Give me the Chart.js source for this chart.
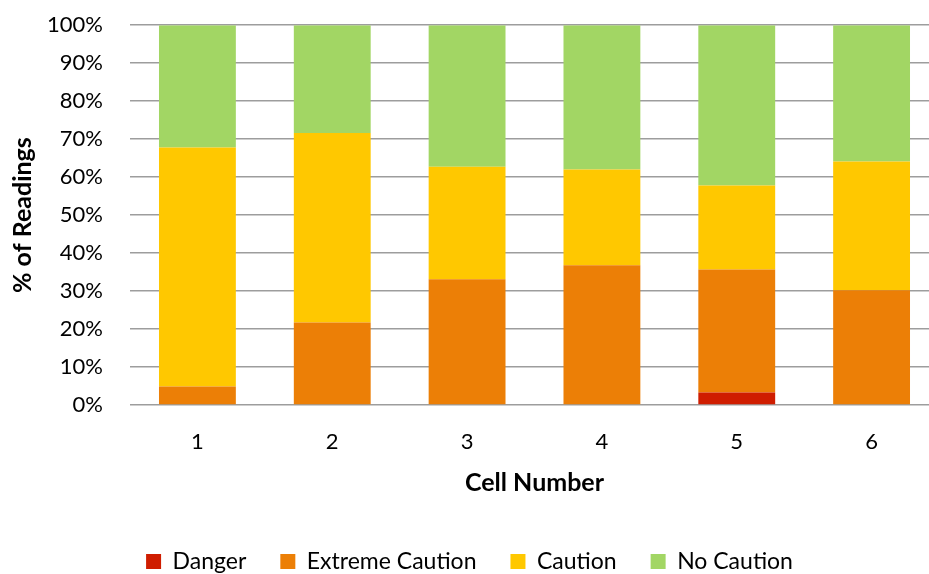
<!DOCTYPE html>
<html>
<head>
<meta charset="utf-8">
<script src="https://cdn.jsdelivr.net/npm/chart.js@4/dist/chart.umd.min.js"></script>
<style>
  html, body { margin: 0; padding: 0; background: #fff; overflow: hidden; }
  #wrap { position: relative; width: 950px; height: 598px; margin-top: -15.5px; }
</style>
</head>
<body>
<div id="wrap"><canvas id="chart"></canvas></div>
<script>
// data (% of readings per cell)
const cells = ['1', '2', '3', '4', '5', '6'];
const danger         = [0,    0,    0,    0,    3.3,  0];
const extremeCaution = [4.9,  21.7, 33.1, 36.8, 32.4, 30.2];
const caution        = [62.9, 49.9, 29.6, 25.2, 22.1, 33.9];
const noCaution      = [32.2, 28.4, 37.3, 38.0, 42.2, 35.9];

const FONT = "Lato, 'Open Sans', sans-serif";
Chart.defaults.font.family = FONT;
Chart.defaults.color = '#000';

new Chart(document.getElementById('chart').getContext('2d'), {
  type: 'bar',
  data: {
    labels: cells,
    datasets: [
      { label: 'Danger', data: danger, backgroundColor: '#cf1d00' },
      { label: 'Extreme Caution', data: extremeCaution, backgroundColor: '#ec7f06' },
      { label: 'Caution', data: caution, backgroundColor: '#ffc800' },
      { label: 'No Caution', data: noCaution, backgroundColor: '#a2d664' }
    ]
  },
  options: {
    responsive: true,
    maintainAspectRatio: false,
    animation: false,
    layout: { padding: { top: 8, right: 11, left: 0, bottom: 0 } },
    datasets: { bar: { barPercentage: 0.57, categoryPercentage: 1 } },
    plugins: {
      legend: {
        position: 'bottom',
        labels: { boxWidth: 15, boxHeight: 15, padding: 34, font: { size: 23 } }
      },
      tooltip: { enabled: false }
    },
    scales: {
      x: {
        stacked: true,
        grid: { display: false, drawTicks: false },
        border: { display: false },
        ticks: { padding: 24, font: { size: 22 } },
        title: { display: true, text: 'Cell Number', font: { size: 25, weight: 'bold' }, padding: { top: 0, bottom: 18.5 } },
        afterFit: s => { s.height = 111; }
      },
      y: {
        stacked: true,
        min: 0,
        max: 100,
        grid: { color: '#9d9d9d', lineWidth: 1.5, drawTicks: false },
        border: { display: false },
        ticks: { stepSize: 10, padding: 27, font: { size: 22 }, callback: v => v + '%' },
        title: { display: true, text: '% of Readings', font: { size: 25, weight: 'bold' }, padding: { top: 8, bottom: 0 } },
        afterFit: s => { s.width = 130; }
      }
    }
  }
});
</script>
</body>
</html>
